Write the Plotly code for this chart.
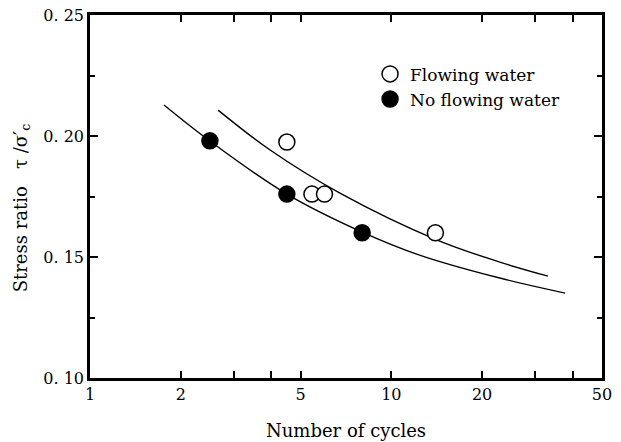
import plotly.graph_objects as go

# Data
open_n = [4.5, 5.45, 6.0, 14.0]
open_r = [0.1975, 0.176, 0.176, 0.160]
filled_n = [2.5, 4.5, 8.0]
filled_r = [0.198, 0.176, 0.160]

lower_curve_n = [1.76, 2.5, 4.5, 8.0, 12.4, 22.9, 37.7]
lower_curve_r = [0.2128, 0.1979, 0.1760, 0.1603, 0.1508, 0.1413, 0.1351]
upper_curve_n = [2.66, 3.96, 6.75, 14.2, 22.9, 33.1]
upper_curve_r = [0.2107, 0.1942, 0.1764, 0.1570, 0.1479, 0.1421]

x_tickvals = [1, 2, 3, 4, 5, 10, 20, 30, 40, 50]
x_ticktext = ["1", "2", "", "", "5", "10", "20", "", "", "50"]
y_tickvals = [0.10, 0.15, 0.20, 0.25]
y_ticktext = ["0. 10", "0. 15", "0. 20", "0. 25"]

FONT = "DejaVu Serif, Liberation Serif, serif"

fig = go.Figure()
fig.add_trace(go.Scatter(x=lower_curve_n, y=lower_curve_r, mode="lines",
                         line=dict(color="black", width=1.4, shape="spline"),
                         showlegend=False, hoverinfo="skip"))
fig.add_trace(go.Scatter(x=upper_curve_n, y=upper_curve_r, mode="lines",
                         line=dict(color="black", width=1.4, shape="spline"),
                         showlegend=False, hoverinfo="skip"))
fig.add_trace(go.Scatter(x=open_n, y=open_r, mode="markers", name="Flowing water",
                         marker=dict(symbol="circle", size=16, color="white",
                                     line=dict(color="black", width=1.5))))
fig.add_trace(go.Scatter(x=filled_n, y=filled_r, mode="markers", name="No flowing water",
                         marker=dict(symbol="circle", size=16, color="black",
                                     line=dict(color="black", width=1.5))))

# The page body has an 8px default margin, so the figure is 8px smaller
fig.update_layout(
    width=613, height=434,
    margin=dict(l=82, r=19, t=7, b=64, autoexpand=False),
    paper_bgcolor="white", plot_bgcolor="white",
    font=dict(family=FONT, color="black", size=15),
    legend=dict(x=0.547, y=0.886, xanchor="left", yanchor="top",
                bgcolor="rgba(0,0,0,0)", font=dict(size=17, family=FONT),
                tracegroupgap=0),
    annotations=[
        dict(text="Number of cycles", xref="paper", yref="paper",
             x=0.5, y=-0.146, xanchor="center", yanchor="middle",
             showarrow=False, font=dict(size=18)),
        dict(text="Stress ratio   τ /σ′<sub>c</sub>", xref="paper", yref="paper",
             x=-0.133, y=0.47, xanchor="center", yanchor="middle", textangle=-90,
             showarrow=False, font=dict(size=18)),
    ],
)
fig.update_xaxes(
    type="log", range=[0, 1.69897], automargin=False, ticklabeloverflow="allow",
    tickvals=x_tickvals, ticktext=x_ticktext,
    ticks="inside", ticklen=7, tickwidth=2, tickcolor="black",
    showline=True, linewidth=2.5, linecolor="black", mirror="ticks",
    showgrid=False, zeroline=False,
    tickfont=dict(size=16),
)
fig.update_yaxes(
    range=[0.10, 0.25], automargin=False, ticklabeloverflow="allow",
    tickvals=y_tickvals, ticktext=y_ticktext,
    ticks="inside", ticklen=8, tickwidth=2, tickcolor="black",
    minor=dict(tickvals=[0.125, 0.175, 0.225], ticks="inside", ticklen=5,
               tickwidth=2, tickcolor="black", showgrid=False),
    showline=True, linewidth=2.5, linecolor="black", mirror="ticks",
    showgrid=False, zeroline=False,
    tickfont=dict(size=16),
)

fig.write_html("out.html")
